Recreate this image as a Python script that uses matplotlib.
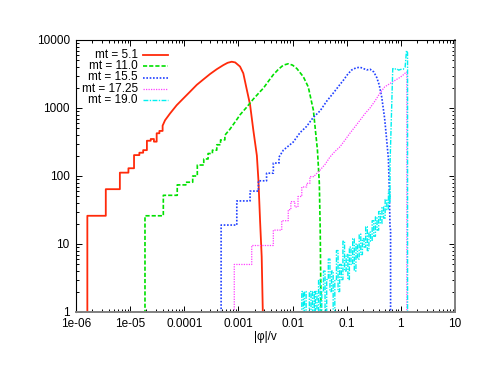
import numpy as np
import matplotlib
matplotlib.use('Agg')
import matplotlib.pyplot as plt
from matplotlib.lines import Line2D
from matplotlib.ticker import LogLocator, NullFormatter

plt.rcParams['font.family'] = ['Liberation Sans', 'DejaVu Sans']
plt.rcParams['font.size'] = 8.5

labels = ['mt = 5.1', 'mt = 11.0', 'mt = 15.5', 'mt = 17.25', 'mt = 19.0']

# histogram: stepped low-count part + dense part
red_step_x = [1.62e-6, 3.55e-6, 6.46e-6, 9.3e-6, 1.18e-5, 1.48e-5, 1.74e-5, 2.04e-5, 2.4e-5, 2.75e-5, 3.09e-5, 3.47e-5]
red_step_y = [26, 64, 112, 130, 203, 220, 240, 330, 350, 320, 425, 460]
red_x = [3.98e-5, 4.41e-5, 5.45e-5, 7.24e-5, 9.59e-5, 1.28e-4, 1.70e-4, 2.25e-4, 2.99e-4, 3.98e-4, 5.25e-4,
         6.31e-4, 7.52e-4, 8.71e-4, 1.07e-3, 1.23e-3, 1.41e-3, 1.64e-3, 1.88e-3, 2.19e-3, 2.34e-3, 2.51e-3,
         2.69e-3, 2.82e-3]
red_y = [550, 660, 830, 1100, 1380, 1740, 2190, 2630, 3160, 3720, 4270, 4620, 4790, 4680, 4070, 3240, 1950,
         1120, 479, 200, 87, 22, 6.5, 1]

green_step_x = [1.88e-5, 4.10e-5, 7.41e-5, 1.07e-4, 1.43e-4, 1.74e-4, 2.29e-4, 2.75e-4, 3.31e-4, 3.98e-4, 4.68e-4]
green_step_y = [26, 52, 74, 81, 100, 145, 178, 214, 240, 288, 340]
green_x = [5.62e-4, 7.00e-4, 9.33e-4, 1.07e-3, 1.41e-3, 1.88e-3, 2.51e-3, 2.88e-3, 3.55e-3, 4.41e-3, 5.50e-3,
           6.76e-3, 8.32e-3, 1.0e-2, 1.20e-2, 1.58e-2, 1.95e-2, 2.42e-2, 2.88e-2, 3.12e-2, 3.24e-2, 3.31e-2,
           3.36e-2]
green_y = [398, 490, 676, 794, 1020, 1350, 1740, 1950, 2450, 3090, 3720, 4270, 4470, 4270, 3800, 2880, 2040,
           933, 240, 78, 16, 3, 1]

blue_step_x = [4.79e-4, 9.33e-4, 1.64e-3, 2.34e-3, 3.31e-3, 4.41e-3]
blue_step_y = [19, 43, 60, 85, 110, 155]
blue_x = [5.62e-3, 6.76e-3, 1.03e-2, 1.38e-2, 1.82e-2, 2.40e-2, 3.24e-2, 4.27e-2, 5.66e-2, 7.08e-2, 8.71e-2,
          0.105, 0.124, 0.148, 0.176, 0.204, 0.234, 0.269, 0.316, 0.358, 0.398, 0.443, 0.501, 0.537, 0.589,
          0.612, 0.631, 0.646, 0.646]
blue_y = [190, 240, 316, 436, 537, 724, 912, 1260, 1660, 2090, 2570, 3160, 3630, 3890, 3980, 3800, 3630, 3720,
          3390, 2820, 2190, 1450, 708, 398, 178, 63, 18, 16, 1]

magenta_step_x = [8.38e-4, 1.76e-3, 4.41e-3, 6.31e-3, 8.32e-3, 9.3e-3, 1.10e-2, 1.26e-2, 1.48e-2, 1.82e-2, 2.09e-2]
magenta_step_y = [5, 9.5, 16, 22, 32, 42, 35, 50, 69, 78, 98]
magenta_x = [2.51e-2, 3.24e-2, 3.98e-2, 4.90e-2, 6.03e-2, 7.52e-2, 9.33e-2, 0.115, 0.141, 0.176, 0.219, 0.269,
             0.331, 0.412, 0.501, 0.631, 0.794, 0.966, 1.12, 1.26, 1.29, 1.29]
magenta_y = [100, 123, 148, 190, 229, 269, 339, 427, 525, 661, 832, 1000, 1260, 1660, 2040, 2290, 2570, 2820,
             3090, 3390, 3390, 1]

cyan_step_x = [0.0138, 0.0148, 0.0158, 0.0166, 0.0178, 0.0191, 0.0204, 0.0219, 0.0234, 0.0251, 0.0263, 0.0282,
               0.0302, 0.0324, 0.0347, 0.0372, 0.0398, 0.0427, 0.0457, 0.0490, 0.0525, 0.0562, 0.0603, 0.0646,
               0.0692, 0.0741, 0.0794, 0.0851, 0.0912, 0.0977, 0.105, 0.112, 0.120, 0.129, 0.138, 0.148, 0.158,
               0.170, 0.182, 0.195, 0.209, 0.224, 0.240, 0.257, 0.275, 0.295, 0.316, 0.339, 0.363, 0.389, 0.417,
               0.447, 0.479, 0.513, 0.550, 0.589, 0.617]
cyan_step_y = [1, 2, 1, 2, 1, 1, 2, 1, 2, 1, 2, 1, 3, 1, 2, 4, 1, 3, 6, 2, 4, 1, 3, 8, 2, 5, 3, 11, 4, 7, 3, 9,
               5, 12, 4, 10, 6, 14, 7, 12, 9, 18, 8, 15, 11, 22, 13, 25, 16, 30, 20, 35, 24, 45, 32, 60, 40]
cyan_x = [0.631, 0.676, 0.708, 0.759, 0.832, 0.912, 1.0, 1.10, 1.20, 1.27, 1.33, 1.33]
cyan_y = [150, 1000, 3800, 3700, 3800, 3600, 3700, 3700, 4000, 7000, 6500, 1]


def trace(sx, sy, lx, ly):
    # stepped section rising from below the axis, then the dense part as a line
    xs = np.concatenate([np.repeat(sx, 2), [lx[0]], lx])
    ys = np.concatenate([[0.5], np.repeat(sy, 2)[:-1], [sy[-1]], ly])
    return xs, ys


styles = [dict(color='#ff2a0a', lw=1.3, ls='-'),
          dict(color='#00e000', lw=1.2, ls=(0, (2.5, 1.2))),
          dict(color='#2040ff', lw=1.2, ls=(0, (1, 1))),
          dict(color='#ff40ff', lw=0.9, ls=(0, (1, 1))),
          dict(color='#00f0f0', lw=1.0, ls=(0, (3.5, 1, 1, 1)))]

curves = [trace(red_step_x, red_step_y, red_x, red_y),
          trace(green_step_x, green_step_y, green_x, green_y),
          trace(blue_step_x, blue_step_y, blue_x, blue_y),
          trace(magenta_step_x, magenta_step_y, magenta_x, magenta_y),
          trace(cyan_step_x, cyan_step_y, cyan_x, cyan_y)]

fig = plt.figure(figsize=(4.83, 3.73), dpi=100)
ax = fig.add_axes([76/483, 1-312/373, 379/483, 272/373])

for (xs, ys), st in zip(curves, styles):
    ax.plot(xs, ys, **st)

ax.set_xscale('log')
ax.set_yscale('log')
ax.set_xlim(1e-6, 10)
ax.set_ylim(1, 10000)
ax.set_xticks([1e-6, 1e-5, 1e-4, 1e-3, 1e-2, 0.1, 1, 10],
              ['1e-06', '1e-05', '0.0001', '0.001', '0.01', '0.1', '1', '10'])
ax.set_yticks([1, 10, 100, 1000, 10000], ['1', '10', '100', '1000', '10000'])
ax.xaxis.set_minor_locator(LogLocator(base=10, subs=np.arange(2, 10)))
ax.yaxis.set_minor_locator(LogLocator(base=10, subs=np.arange(2, 10)))
ax.xaxis.set_minor_formatter(NullFormatter())
ax.yaxis.set_minor_formatter(NullFormatter())
ax.tick_params(which='both', direction='in', top=True, right=True, width=0.7)
ax.tick_params(which='major', length=4)
ax.tick_params(which='minor', length=2)
ax.tick_params(axis='x', pad=4)
ax.tick_params(axis='y', pad=4.5)
for s in ['bottom', 'right']:
    ax.spines[s].set_color('#808080')
    ax.spines[s].set_linewidth(1.4)
for s in ['top', 'left']:
    ax.spines[s].set_linewidth(0.8)
ax.set_xlabel('|φ|/v', labelpad=1)

# gnuplot-style key: right-aligned text, sample line after it
rows = [54.7, 66.1, 77.5, 88.9, 100.3]
for lab, st, py in zip(labels, styles, rows):
    yf = 1 - py/373
    fig.text(137.7/483, yf, lab, ha='right', va='center')
    fig.add_artist(Line2D([142.7/483, 167.7/483], [yf, yf], transform=fig.transFigure, **st))

fig.savefig('out.png', dpi=100)
